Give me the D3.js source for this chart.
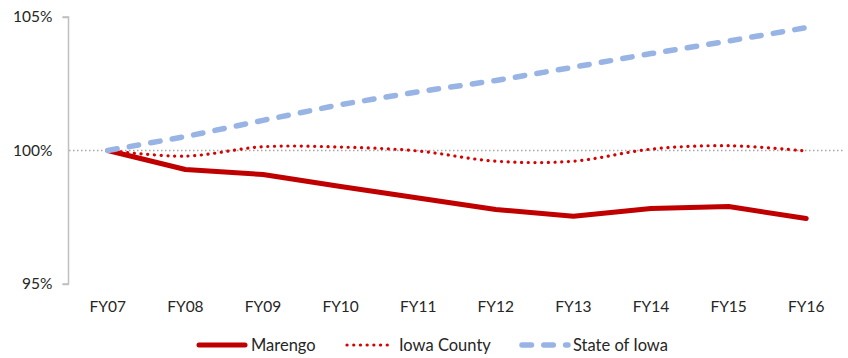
<!DOCTYPE html>
<html>
<head>
<meta charset="utf-8">
<script src="https://cdn.jsdelivr.net/npm/d3@7"></script>
<style>
  html, body { margin: 0; padding: 0; background: #fff; }
  svg { display: block; font-family: Lato, "Open Sans", sans-serif; }
</style>
</head>
<body>
<svg id="chart" width="848" height="358"></svg>
<script>
// Fiscal years on the x axis
const years = ["FY07", "FY08", "FY09", "FY10", "FY11", "FY12", "FY13", "FY14", "FY15", "FY16"];

// Index values (FY07 = 100%)
const marengo    = [100, 99.29, 99.10, 98.65, 98.22, 97.79, 97.54, 97.83, 97.90, 97.45];
const iowaCounty = [100, 99.79, 100.14, 100.13, 99.98, 99.60, 99.60, 100.05, 100.18, 99.98];
const stateIowa  = [100, 100.52, 101.13, 101.72, 102.20, 102.62, 103.12, 103.63, 104.10, 104.60];

// y-axis ticks
const yTicks = [95, 100, 105];

const seriesNames = ["Marengo", "Iowa County", "State of Iowa"];

const svg = d3.select("#chart");
const textColor = "#262626";

const x = d3.scaleBand().domain(years).range([69, 845]).padding(0);
const xc = d => x(d) + x.bandwidth() / 2;
const y = d3.scaleLinear().domain([95, 105]).range([284, 17]);

// 100% reference line
svg.append("line")
  .attr("x1", 69).attr("x2", 845)
  .attr("y1", y(100)).attr("y2", y(100))
  .attr("stroke", "#a6a6a6")
  .attr("stroke-width", 1.5)
  .attr("stroke-dasharray", "1.5,2.5");

// y axis
const yAxis = svg.append("g")
  .attr("transform", "translate(68.5,0)")
  .call(d3.axisLeft(y).tickValues(yTicks).tickFormat(d => d + "%").tickSize(6).tickPadding(10));
yAxis.select(".domain").attr("stroke", "#bfbfbf").attr("stroke-width", 1.5).attr("d", `M-6,${y(105)}H0V${y(95)}H-6`);
yAxis.selectAll(".tick line").attr("stroke", "#bfbfbf").attr("stroke-width", 1.5);
yAxis.selectAll(".tick line").filter(d => d === 100).remove();
yAxis.selectAll(".tick text")
  .attr("fill", textColor)
  .attr("font-size", 15.5)
  .attr("font-family", "Lato, sans-serif");

// x axis labels (no axis line)
const xAxis = svg.append("g")
  .attr("transform", "translate(0,294)")
  .call(d3.axisBottom(x).tickSize(0).tickPadding(7));
xAxis.select(".domain").remove();
xAxis.selectAll(".tick text")
  .attr("fill", textColor)
  .attr("font-size", 15.5)
  .attr("font-family", "Lato, sans-serif");

// Series styles
const styles = [
  { values: marengo,    color: "#c00000", width: 5,   dash: null,        cap: "round", curve: d3.curveLinear },
  { values: iowaCounty, color: "#d90000", width: 3.2, dash: "0.1,6.6",   cap: "round", curve: d3.curveCardinal.tension(0) },
  { values: stateIowa,  color: "#98b4e4", width: 5.5, dash: "9.5,12.3",  cap: "round", curve: d3.curveLinear }
];

styles.forEach(s => {
  const line = d3.line()
    .x((d, i) => xc(years[i]))
    .y(d => y(d))
    .curve(s.curve);
  svg.append("path")
    .datum(s.values)
    .attr("d", line)
    .attr("fill", "none")
    .attr("stroke", s.color)
    .attr("stroke-width", s.width)
    .attr("stroke-linecap", s.cap)
    .attr("stroke-linejoin", "round")
    .attr("stroke-dasharray", s.dash);
});

// Legend
const legendY = 345;
const legendItems = [
  { x1: 199, x2: 245, tx: 251 },
  { x1: 347, x2: 388, tx: 399 },
  { x1: 522, x2: 568, tx: 573 }
];
legendItems.forEach((p, i) => {
  const s = styles[i];
  svg.append("line")
    .attr("x1", p.x1).attr("x2", p.x2)
    .attr("y1", legendY).attr("y2", legendY)
    .attr("stroke", s.color)
    .attr("stroke-width", s.width)
    .attr("stroke-linecap", s.cap)
    .attr("stroke-dasharray", s.dash);
  svg.append("text")
    .attr("x", p.tx).attr("y", legendY)
    .attr("dy", "0.35em")
    .attr("fill", textColor)
    .attr("font-size", 16.5)
    .text(seriesNames[i]);
});
</script>
</body>
</html>
